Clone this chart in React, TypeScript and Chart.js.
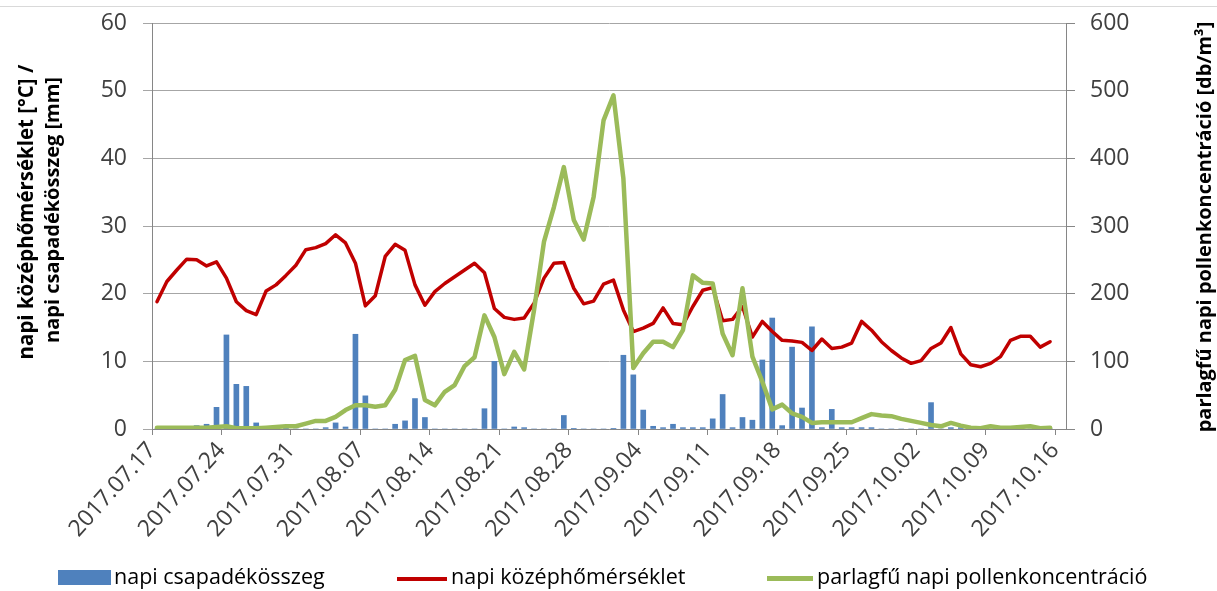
import React, { useEffect, useRef } from 'react';
import { Chart, registerables } from 'chart.js';

Chart.register(...registerables);

// Days since 2017.07.17 at which the axis shows a date label
const xTickDays = [0, 7, 14, 21, 28, 35, 42, 49, 56, 63, 70, 77, 84, 91];
const xTickLabels = [
  '2017.07.17', '2017.07.24', '2017.07.31', '2017.08.07', '2017.08.14',
  '2017.08.21', '2017.08.28', '2017.09.04', '2017.09.11', '2017.09.18',
  '2017.09.25', '2017.10.02', '2017.10.09', '2017.10.16',
];

// daily values 2017.07.17 .. 2017.10.15
const precipitation = [
  0, 0, 0, 0, 0.5, 0.7, 3.2, 13.9, 6.6, 6.3,
  0.9, 0, 0, 0.1, 0, 0, 0, 0.2, 0.9, 0.3,
  14.0, 4.9, 0, 0, 0.7, 1.2, 4.5, 1.7, 0, 0,
  0, 0, 0, 3.0, 10.0, 0, 0.3, 0.2, 0, 0,
  0, 2.0, 0.1, 0, 0, 0, 0.1, 10.9, 8.0, 2.8,
  0.4, 0.2, 0.7, 0.2, 0.2, 0.2, 1.5, 5.1, 0.2, 1.7,
  1.3, 10.2, 16.4, 0.5, 12.1, 3.1, 15.1, 0.2, 2.9, 0.2,
  0.2, 0.2, 0.2, 0, 0, 0, 0, 0, 3.9, 0,
  0.2, 0.2, 0, 0, 0, 0, 0, 0, 0, 0,
  0,
];

const temperature = [
  18.8, 21.8, 23.5, 25.1, 25.0, 24.1, 24.7, 22.3, 18.8, 17.5,
  16.9, 20.4, 21.3, 22.7, 24.2, 26.5, 26.8, 27.4, 28.7, 27.5,
  24.5, 18.2, 19.7, 25.5, 27.3, 26.4, 21.3, 18.3, 20.3, 21.5,
  22.5, 23.5, 24.5, 23.1, 17.8, 16.5, 16.2, 16.4, 18.6, 22.3,
  24.5, 24.6, 20.8, 18.5, 18.9, 21.4, 22.0, 17.6, 14.4, 14.9,
  15.6, 17.9, 15.6, 15.4, 18.1, 20.5, 20.9, 16.0, 16.2, 18.1,
  13.6, 15.9, 14.4, 13.1, 13.0, 12.8, 11.6, 13.3, 11.9, 12.1,
  12.7, 15.9, 14.6, 12.9, 11.6, 10.5, 9.7, 10.1, 11.9, 12.7,
  15.0, 11.1, 9.5, 9.2, 9.7, 10.7, 13.1, 13.7, 13.7, 12.1,
  12.9,
];

const pollen = [
  2, 2, 2, 2, 2, 2, 3, 4, 1, 1,
  1, 2, 3, 4, 4, 8, 12, 12, 18, 28,
  35, 35, 33, 35, 58, 102, 108, 43, 35, 55,
  65, 93, 106, 168, 136, 81, 114, 88, 176, 277,
  328, 387, 309, 280, 343, 456, 493, 370, 90, 112,
  129, 129, 121, 146, 227, 216, 215, 141, 109, 208,
  107, 70, 29, 36, 23, 18, 9, 10, 10, 10,
  10, 16, 22, 20, 19, 15, 12, 9, 6, 4,
  9, 5, 2, 1, 4, 2, 2, 3, 4, 1,
  2,
];

const seriesNames = [
  'napi csapadékösszeg',
  'napi középhőmérséklet',
  'parlagfű napi pollenkoncentráció',
];
const leftTitle1 = 'napi középhőmérséklet [°C] /';
const leftTitle2 = 'napi csapadékösszeg [mm]';
const rightTitle = 'parlagfű napi pollenkoncentráció [db/m³]';

const BLUE = '#4f81bd';
const RED = '#c00000';
const GREEN = '#9bbb59';
const FONT = '"Open Sans", "DejaVu Sans", sans-serif';

const toPoints = (arr: number[]) => arr.map((v, i) => ({ x: i + 0.5, y: v }));

const titlePlugin = {
  id: 'axisTitles',
  afterDraw(chart: any) {
    const ctx = chart.ctx as CanvasRenderingContext2D;
    const draw = (text: string, cx: number, cy: number, len: number) => {
      ctx.save();
      ctx.font = `bold 20px ${FONT}`;
      const w = ctx.measureText(text).width;
      const size = (20 * len) / w;
      ctx.font = `bold ${size.toFixed(2)}px ${FONT}`;
      ctx.translate(cx, cy);
      ctx.rotate(-Math.PI / 2);
      ctx.textAlign = 'center';
      ctx.textBaseline = 'middle';
      ctx.fillStyle = '#000000';
      ctx.fillText(text, 0, 0);
      ctx.restore();
    };
    draw(leftTitle1, 27, 212, 295);
    draw(leftTitle2, 53, 210, 266);
    draw(rightTitle, 1205, 227, 411);
  },
};

export default function App() {
  const canvasRef = useRef<HTMLCanvasElement | null>(null);

  useEffect(() => {
    if (!canvasRef.current) return;
    const tickFont = { family: FONT, size: 23 };
    const chart = new Chart(canvasRef.current, {
      type: 'bar',
      data: {
        datasets: [
          {
            type: 'line',
            label: seriesNames[2],
            data: toPoints(pollen),
            borderColor: GREEN,
            backgroundColor: GREEN,
            borderWidth: 4.5,
            pointRadius: 0,
            tension: 0,
            borderJoinStyle: 'round',
            borderCapStyle: 'round',
            yAxisID: 'y1',
            order: 0,
          } as any,
          {
            type: 'line',
            label: seriesNames[1],
            data: toPoints(temperature),
            borderColor: RED,
            backgroundColor: RED,
            borderWidth: 3.5,
            pointRadius: 0,
            tension: 0,
            borderJoinStyle: 'round',
            borderCapStyle: 'round',
            yAxisID: 'y',
            order: 1,
          } as any,
          {
            type: 'bar',
            label: seriesNames[0],
            data: toPoints(precipitation),
            backgroundColor: BLUE,
            borderWidth: 0,
            barThickness: 5,
            yAxisID: 'y',
            order: 2,
          } as any,
        ],
      },
      options: {
        animation: false,
        responsive: true,
        maintainAspectRatio: false,
        layout: { padding: { top: 23, left: 0, right: 0, bottom: 0 } },
        plugins: {
          legend: { display: false },
          tooltip: { enabled: false },
        },
        scales: {
          x: {
            type: 'linear',
            min: 0,
            max: 92.1,
            offset: false,
            afterBuildTicks: (s: any) => {
              s.ticks = xTickDays.map((v) => ({ value: v }));
            },
            afterFit: (s: any) => {
              s.height = 162;
              s.paddingLeft = 0;
              s.paddingRight = 0;
            },
            ticks: {
              autoSkip: false,
              minRotation: 48,
              maxRotation: 48,
              padding: 2,
              font: tickFont,
              color: '#404040',
              callback: (v: any) => {
                const i = xTickDays.indexOf(Number(v));
                return i >= 0 ? xTickLabels[i] : '';
              },
            },
            grid: {
              offset: false,
              drawOnChartArea: false,
              drawTicks: true,
              tickLength: 6,
              color: '#868686',
            },
            border: { color: '#868686' },
          },
          y: {
            type: 'linear',
            position: 'left',
            min: 0,
            max: 60,
            afterFit: (s: any) => {
              s.width = 152;
              s.paddingTop = 0;
              s.paddingBottom = 0;
            },
            ticks: { stepSize: 10, padding: 16, font: tickFont, color: '#404040' },
            grid: { color: '#a6a6a6', tickLength: 9 },
            border: { color: '#868686' },
          },
          y1: {
            type: 'linear',
            position: 'right',
            min: 0,
            max: 600,
            afterFit: (s: any) => {
              s.width = 151;
              s.paddingTop = 0;
              s.paddingBottom = 0;
            },
            ticks: { stepSize: 100, padding: 15, font: tickFont, color: '#404040' },
            grid: { drawOnChartArea: false, tickLength: 9, color: '#868686' },
            border: { color: '#868686' },
          },
        },
      } as any,
      plugins: [titlePlugin],
    });
    return () => chart.destroy();
  }, []);

  const textStyle: React.CSSProperties = {
    position: 'absolute',
    top: 565,
    font: `21.5px ${FONT}`,
    lineHeight: '22px',
    color: '#000',
    whiteSpace: 'nowrap',
  };

  return (
    <div style={{ position: 'fixed', left: 0, top: 0, width: 1217, height: 591, background: '#fff' }}>
      <div style={{ position: 'absolute', left: 0, top: 6, width: 1217, height: 1, background: '#d9d9d9' }} />
      <div style={{ position: 'absolute', left: 0, top: 0, width: 1217, height: 591 }}>
        <canvas ref={canvasRef} />
      </div>
      <div style={{ position: 'absolute', left: 58, top: 570, width: 53, height: 15, background: BLUE }} />
      <span style={{ ...textStyle, left: 114 }}>{seriesNames[0]}</span>
      <div style={{ position: 'absolute', left: 397, top: 577, width: 50, height: 3.5, background: RED }} />
      <span style={{ ...textStyle, left: 451 }}>{seriesNames[1]}</span>
      <div style={{ position: 'absolute', left: 767, top: 576, width: 46, height: 4.5, background: GREEN }} />
      <span style={{ ...textStyle, left: 817 }}>{seriesNames[2]}</span>
    </div>
  );
}
